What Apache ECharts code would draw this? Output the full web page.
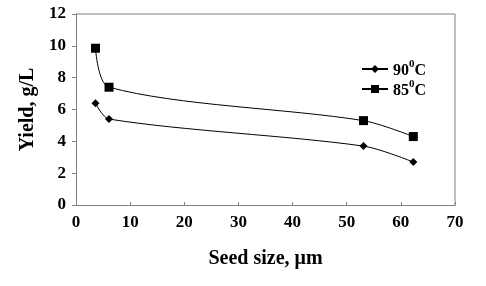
<!DOCTYPE html>
<html>
<head>
<meta charset="utf-8">
<script src="https://cdn.jsdelivr.net/npm/echarts@6/dist/echarts.min.js"></script>
<style>
  html, body { margin: 0; padding: 0; background: #fff; }
  #chart { width: 486px; height: 286px; }
</style>
</head>
<body>
<div id="chart"></div>
<script>
// seed size (um) and yield (g/L)
const seedSize = [3.6, 6.1, 53.1, 62.3]
const yield90 = [6.4, 5.4, 3.7, 2.7]
const yield85 = [9.85, 7.4, 5.3, 4.3]
const seriesNames = ['90C', '85C']
const xTicks = { min: 0, max: 70, interval: 10 }
const yTicks = { min: 0, max: 12, interval: 2 }

const font = 'Liberation Serif'
const chart = echarts.init(document.getElementById('chart'))

const pairs = (xs, ys) => xs.map((x, i) => [x, ys[i]])

const option = {
  animation: false,
  grid: { left: 76, right: 31, top: 14, bottom: 81 },
  legend: {
    left: 356,
    top: 54,
    orient: 'vertical',
    itemGap: 0,
    itemWidth: 26,
    itemHeight: 10,
    data: seriesNames,
    formatter: (name) => `{a|${name.slice(0, 2)}}{s|0}{a|C}`,
    textStyle: {
      fontFamily: font,
      rich: {
        a: { fontFamily: font, fontSize: 16, fontWeight: 'bold', color: '#000', lineHeight: 20, verticalAlign: 'bottom' },
        s: { fontFamily: font, fontSize: 11, fontWeight: 'bold', color: '#000', lineHeight: 20, verticalAlign: 'top' }
      }
    }
  },
  xAxis: {
    type: 'value',
    min: xTicks.min,
    max: xTicks.max,
    interval: xTicks.interval,
    name: 'Seed size, μm',
    nameLocation: 'middle',
    nameGap: 44,
    nameTextStyle: { fontFamily: font, fontSize: 20, fontWeight: 'bold', color: '#000' },
    axisLine: { onZero: false, lineStyle: { color: '#808080', width: 1 } },
    axisTick: { inside: true, length: 3, lineStyle: { color: '#808080' } },
    axisLabel: { fontFamily: font, fontSize: 17, fontWeight: 'bold', color: '#000', margin: 9 },
    splitLine: { show: false }
  },
  yAxis: {
    type: 'value',
    min: yTicks.min,
    max: yTicks.max,
    interval: yTicks.interval,
    name: 'Yield, g/L',
    nameLocation: 'middle',
    nameGap: 36,
    nameTextStyle: { fontFamily: font, fontSize: 20, fontWeight: 'bold', color: '#000' },
    axisLine: { show: true, lineStyle: { color: '#808080', width: 1 } },
    axisTick: { show: true, length: 4, lineStyle: { color: '#808080' } },
    axisLabel: { fontFamily: font, fontSize: 17, fontWeight: 'bold', color: '#000', margin: 10 },
    splitLine: { show: false }
  },
  graphic: [
    {
      // top and right border of the plot box
      type: 'polyline',
      shape: { points: [[76, 14], [455, 14], [455, 205]] },
      style: { stroke: '#808080', lineWidth: 1, fill: null }
    }
  ],
  series: [
    {
      name: seriesNames[0],
      type: 'line',
      data: pairs(seedSize, yield90),
      smooth: 0.3,
      symbol: 'diamond',
      symbolSize: 8,
      lineStyle: { color: '#000', width: 1 },
      itemStyle: { color: '#000' }
    },
    {
      name: seriesNames[1],
      type: 'line',
      data: pairs(seedSize, yield85),
      smooth: 0.3,
      symbol: 'rect',
      symbolSize: 9,
      lineStyle: { color: '#000', width: 1 },
      itemStyle: { color: '#000' }
    }
  ]
}

chart.setOption(option)
</script>
</body>
</html>
